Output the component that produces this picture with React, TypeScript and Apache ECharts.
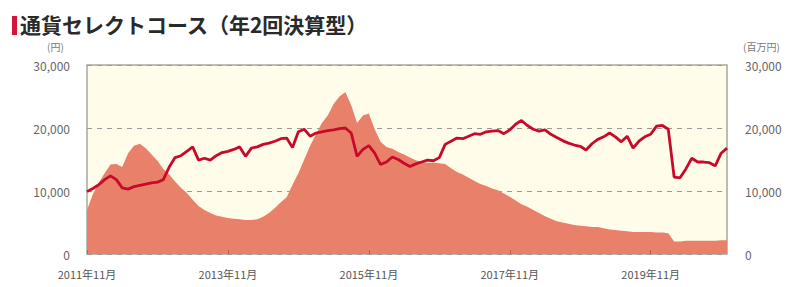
import React, { useEffect, useRef } from "react";
import * as echarts from "echarts";

const months: string[] = [];
for (let i = 0; i < 110; i++) {
  const y = 2011 + Math.floor((10 + i) / 12);
  const m = ((10 + i) % 12) + 1;
  months.push(`${y}年${m}月`);
}

const navValues = [
  9900, 10400, 11000, 11800, 12400, 11800, 10500, 10300, 10700, 10900,
  11100, 11300, 11400, 11800, 13800, 15300, 15600, 16300, 17000, 14900,
  15200, 14900, 15600, 16100, 16300, 16600, 17000, 15500, 16800, 17000,
  17400, 17600, 17900, 18300, 18400, 16900, 19400, 19800, 18700, 19200,
  19400, 19600, 19700, 19900, 20000, 19200, 15500, 16600, 17200, 16000,
  14200, 14600, 15400, 15000, 14400, 13900, 14300, 14600, 14900, 14800,
  15300, 17400, 17900, 18400, 18300, 18700, 19100, 19000, 19400, 19500,
  19600, 19100, 19700, 20600, 21200, 20400, 19800, 19500, 19700, 19000,
  18500, 18000, 17600, 17300, 17100, 16500, 17500, 18200, 18600, 19200,
  18600, 17800, 18700, 16800, 17900, 18600, 19000, 20300, 20400, 19800,
  12200, 12100, 13500, 15200, 14600, 14600, 14500, 14000, 16000, 16800,
];

const assetValues = [
  7000, 9500, 11300, 12800, 14200, 14300, 13800, 16000, 17200, 17500,
  16800, 15800, 14800, 13500, 12600, 11500, 10500, 9700, 8600, 7600,
  7000, 6500, 6100, 5900, 5700, 5600, 5500, 5400, 5400, 5500,
  5900, 6500, 7300, 8200, 9000, 11000, 12800, 15000, 17200, 19000,
  20800, 22000, 23800, 25000, 25700, 23600, 20800, 22000, 22300, 19800,
  17800, 17000, 16700, 16200, 15800, 15300, 14900, 14600, 14500, 14500,
  14400, 14300, 13600, 13000, 12600, 12100, 11600, 11100, 10800, 10400,
  10100, 9600, 9100, 8500, 7900, 7500, 7000, 6500, 6000, 5600,
  5200, 5000, 4800, 4600, 4500, 4400, 4300, 4300, 4100, 3900,
  3800, 3700, 3600, 3500, 3500, 3500, 3500, 3400, 3400, 3300,
  2000, 2000, 2100, 2100, 2100, 2100, 2100, 2100, 2200, 2200,
];

const title = "通貨セレクトコース（年2回決算型）";
const leftUnit = "(円)";
const rightUnit = "(百万円)";

const FONT = "'Noto Sans CJK JP', sans-serif";

const fmt = (v: number) => v.toLocaleString("en-US");

export default function App() {
  const ref = useRef<HTMLDivElement>(null);
  useEffect(() => {
    if (!ref.current) return;
    const chart = echarts.init(ref.current, undefined, { renderer: "svg" });
    chart.setOption({
      animation: false,
      backgroundColor: "#ffffff",
      textStyle: { fontFamily: FONT },
      graphic: [
        { type: "rect", left: 12, top: 16, shape: { width: 5, height: 19 }, style: { fill: "#d4143c" } },
        {
          type: "text",
          left: 20,
          top: 13,
          style: { text: title, fontSize: 21, fontWeight: "bold", fill: "#2a2a2a", fontFamily: FONT },
        },
        {
          type: "text",
          left: 47,
          top: 41,
          style: { text: leftUnit, fontSize: 10, fill: "#777", fontFamily: FONT },
        },
        {
          type: "text",
          left: 743,
          top: 41,
          style: { text: rightUnit, fontSize: 10, fill: "#777", fontFamily: FONT },
        },
      ],
      grid: {
        left: 87,
        right: 67,
        top: 65,
        bottom: 33,
        show: true,
        backgroundColor: "#fffcea",
        borderColor: "#a8a8a0",
        borderWidth: 1.5,
      },
      xAxis: {
        type: "category",
        data: months,
        boundaryGap: false,
        axisLine: { show: false },
        axisTick: {
          show: true,
          inside: true,
          length: 4,
          interval: (i: number) => i % 24 === 0,
          lineStyle: { color: "rgba(150,60,40,0.5)" },
        },
        axisLabel: {
          interval: (i: number) => i % 24 === 0,
          color: "#555",
          fontSize: 11,
          margin: 14,
          fontFamily: FONT,
        },
        splitLine: { show: false },
        z: 5,
      },
      yAxis: [
        {
          type: "value",
          min: 0,
          max: 30000,
          interval: 10000,
          axisLine: { show: false },
          axisTick: { show: false },
          axisLabel: { color: "#666", fontSize: 12, margin: 17, formatter: fmt, fontFamily: FONT },
          splitLine: { show: true, lineStyle: { color: "#999", type: [5, 5], width: 1 } },
        },
        {
          type: "value",
          min: 0,
          max: 30000,
          interval: 10000,
          axisLine: { show: false },
          axisTick: { show: false },
          axisLabel: { color: "#666", fontSize: 12, margin: 18, formatter: fmt, fontFamily: FONT },
          splitLine: { show: false },
        },
      ],
      series: [
        {
          name: "純資産総額",
          type: "line",
          yAxisIndex: 1,
          data: assetValues,
          symbol: "none",
          lineStyle: { width: 0 },
          areaStyle: { color: "#e9806a", opacity: 1 },
          z: 1,
        },
        {
          name: "基準価額",
          type: "line",
          yAxisIndex: 0,
          data: navValues,
          symbol: "none",
          lineStyle: { width: 2.8, color: "#c80a2a" },
          z: 3,
        },
      ],
    });
    return () => chart.dispose();
  }, []);
  return <div ref={ref} style={{ position: "fixed", left: 0, top: 0, width: 794, height: 287 }} />;
}
